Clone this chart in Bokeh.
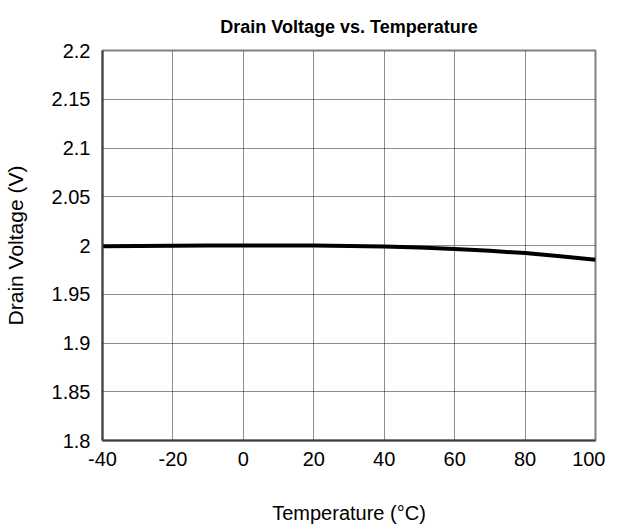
from bokeh.plotting import figure
from bokeh.embed import file_html
from bokeh.resources import INLINE
from bokeh.models import FixedTicker, Range1d

temperature = [-40, -30, -20, -10, 0, 10, 20, 30, 40, 50, 60, 70, 80, 90, 100]
drain_voltage = [1.9992, 1.9995, 1.9998, 2.0000, 2.0001, 2.0001, 2.0000, 1.9996,
                 1.9991, 1.9979, 1.9964, 1.9945, 1.9922, 1.9890, 1.9853]
x_ticks = [-40, -20, 0, 20, 40, 60, 80, 100]
x_tick_labels = ["-40", "-20", "0", "20", "40", "60", "80", "100"]
y_ticks = [1.8, 1.85, 1.9, 1.95, 2.0, 2.05, 2.1, 2.15, 2.2]
y_tick_labels = ["1.8", "1.85", "1.9", "1.95", "2", "2.05", "2.1", "2.15", "2.2"]

FONT = "Liberation Sans"

p = figure(width=605, height=529, output_backend="svg", toolbar_location=None,
           x_range=Range1d(-40, 100), y_range=Range1d(1.8, 2.2),
           min_border_left=100, min_border_right=10, min_border_top=50,
           min_border_bottom=89, title="Drain Voltage vs. Temperature")

p.title.text_font = FONT
p.title.text_font_size = "18px"
p.title.text_font_style = "bold"
p.title.align = "center"
p.title.text_color = "black"
p.title.standoff = 28

p.line(temperature, drain_voltage, line_color="black", line_width=4)

p.xaxis.ticker = FixedTicker(ticks=x_ticks)
p.yaxis.ticker = FixedTicker(ticks=y_ticks)
p.xaxis.major_label_overrides = dict(zip(x_ticks, x_tick_labels))
p.yaxis.major_label_overrides = dict(zip(y_ticks, y_tick_labels))

p.xaxis.axis_label = "Temperature (°C)"
p.yaxis.axis_label = "Drain Voltage (V)"

for ax in (p.xaxis, p.yaxis):
    ax.major_label_text_font = FONT
    ax.major_label_text_font_size = "20px"
    ax.major_label_text_color = "black"
    ax.axis_label_text_font = FONT
    ax.axis_label_text_font_size = "20px"
    ax.axis_label_text_font_style = "normal"
    ax.axis_label_text_color = "black"
    ax.major_tick_out = 0
    ax.major_tick_in = 0
    ax.minor_tick_out = 0
    ax.minor_tick_in = 0
    ax.axis_line_color = "#404040"
    ax.axis_line_width = 2

p.yaxis.axis_label_text_font_size = "21px"
p.xaxis.major_label_standoff = 11
p.xaxis.axis_label_standoff = 33
p.yaxis.major_label_standoff = 12
p.yaxis.axis_label_standoff = 22

p.outline_line_color = "#808080"
p.outline_line_width = 2
p.grid.grid_line_color = "black"
p.grid.grid_line_width = 1
p.grid.grid_line_dash = "1 1"
p.grid.grid_line_alpha = 0.9

open("out.html", "w").write(file_html(p, INLINE))
